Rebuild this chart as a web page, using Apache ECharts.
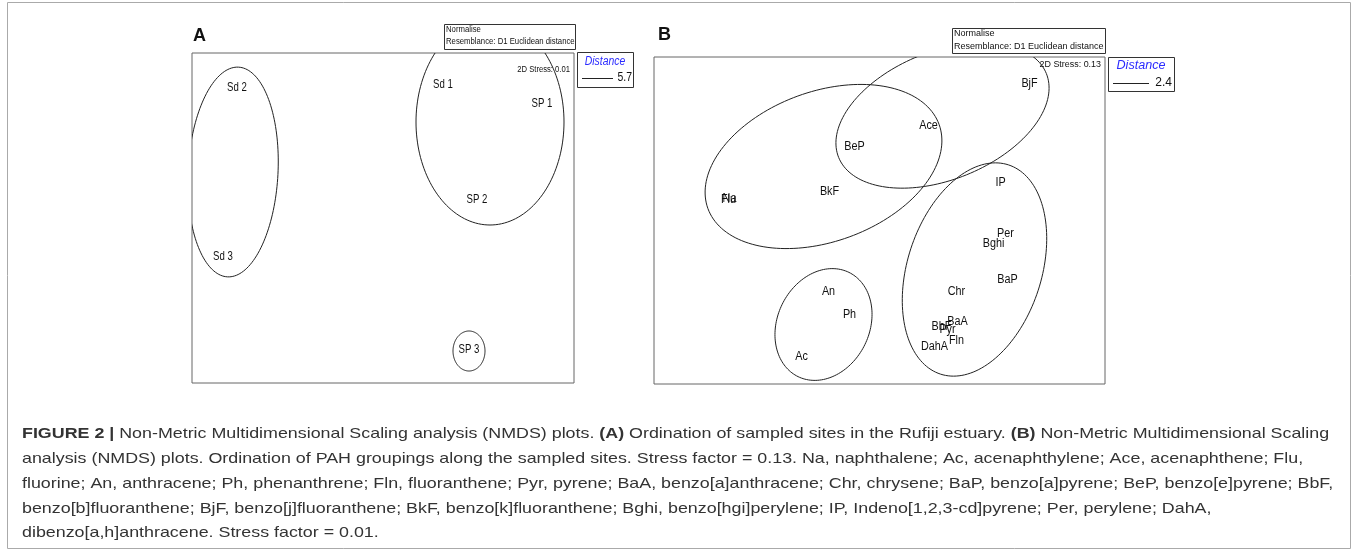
<!DOCTYPE html>
<html>
<head>
<meta charset="utf-8">
<title>NMDS plots</title>
<script src="https://cdn.jsdelivr.net/npm/echarts@6.0.0/dist/echarts.min.js"></script>
<style>
	html, body { margin: 0; padding: 0; background: #fff; }
	#main { width: 1358px; height: 552px; }
</style>
</head>
<body>
<div id="main"></div>
<script>
// panel A - sampled sites (NMDS coordinates)
var siteNames = ['Sd 1', 'Sd 2', 'Sd 3', 'SP 1', 'SP 2', 'SP 3'];
var siteX = [0.60, -1.46, -1.60, 1.59, 0.94, 0.86];
var siteY = [1.33, 1.30, -0.39, 1.14, 0.18, -1.32];
// groups of panel A: [cx, cy, semi axis a, semi axis b, angle deg]
var siteGroups = [
	[-1.50, 0.46, 1.05, 0.45, 87],
	[1.07, 0.96, 1.03, 0.74, 90],
	[0.86, -1.33, 0.20, 0.16, 90]
];

// panel B - PAH compounds
var pahNames = ['Flu', 'Na', 'BkF', 'BeP', 'Ace', 'BjF', 'IP', 'Per', 'Bghi', 'BaP', 'Chr',
	'BaA', 'BbF', 'Pyr', 'Fln', 'DahA', 'An', 'Ph', 'Ac'];
var pahX = [-1.51, -1.50, -0.50, -0.25, 0.49, 1.50, 1.21, 1.26, 1.14, 1.28, 0.77,
	0.78, 0.62, 0.68, 0.77, 0.55, -0.51, -0.30, -0.78];
var pahY = [0.21, 0.22, 0.29, 0.74, 0.95, 1.37, 0.38, -0.13, -0.23, -0.59, -0.71,
	-1.01, -1.06, -1.09, -1.20, -1.26, -0.71, -0.94, -1.36];
var pahGroups = [
	[-0.56, 0.54, 1.23, 0.75, 20],
	[0.63, 1.05, 1.12, 0.64, 22],
	[-0.56, -1.04, 0.58, 0.46, 64],
	[0.95, -0.49, 1.10, 0.67, 72]
];

var stressA = '2D Stress: 0.01';
var stressB = '2D Stress: 0.13';
var distA = '5.7';
var distB = '2.4';

var captionLines = [
	'{b|FIGURE 2 |} Non-Metric Multidimensional Scaling analysis (NMDS) plots. {b|(A)} Ordination of sampled sites in the Rufiji estuary. {b|(B)} Non-Metric Multidimensional Scaling',
	'analysis (NMDS) plots. Ordination of PAH groupings along the sampled sites. Stress factor = 0.13. Na, naphthalene; Ac, acenaphthylene; Ace, acenaphthene; Flu,',
	'fluorine; An, anthracene; Ph, phenanthrene; Fln, fluoranthene; Pyr, pyrene; BaA, benzo[a]anthracene; Chr, chrysene; BaP, benzo[a]pyrene; BeP, benzo[e]pyrene; BbF,',
	'benzo[b]fluoranthene; BjF, benzo[j]fluoranthene; BkF, benzo[k]fluoranthene; Bghi, benzo[hgi]perylene; IP, Indeno[1,2,3-cd]pyrene; Per, perylene; DahA,',
	'dibenzo[a,h]anthracene. Stress factor = 0.01.'
];

var SANS = '"Liberation Sans", Arial, Helvetica, sans-serif';

function points(xs, ys) {
	var out = [];
	for (var i = 0; i < xs.length; i++) {
		out.push([xs[i], ys[i]]);
	}
	return out;
}

// labels only, PRIMER style (no symbols), a bit condensed
function labelSeries(names, xs, ys, idx, size, sx) {
	return {
		type: 'custom',
		xAxisIndex: idx,
		yAxisIndex: idx,
		silent: true,
		z: 5,
		data: points(xs, ys),
		renderItem: function (params, api) {
			var p = api.coord([api.value(0), api.value(1)]);
			return {
				type: 'text',
				x: p[0], y: p[1],
				scaleX: sx,
				style: {
					x: 0, y: 0,
					text: names[params.dataIndex],
					font: size + 'px ' + SANS,
					fill: '#111',
					textAlign: 'center',
					textVerticalAlign: 'middle'
				}
			};
		}
	};
}

// group ellipses, drawn through the axis scales
function ellipseSeries(list, idx) {
	return {
		type: 'custom',
		xAxisIndex: idx,
		yAxisIndex: idx,
		clip: true,
		silent: true,
		data: list,
		renderItem: function (params, api) {
			var cx = api.value(0), cy = api.value(1);
			var a = api.value(2), b = api.value(3);
			var ang = api.value(4) * Math.PI / 180;
			var pts = [];
			for (var i = 0; i < 160; i++) {
				var t = i / 160 * Math.PI * 2;
				var x = cx + a * Math.cos(t) * Math.cos(ang) - b * Math.sin(t) * Math.sin(ang);
				var y = cy + a * Math.cos(t) * Math.sin(ang) + b * Math.sin(t) * Math.cos(ang);
				pts.push(api.coord([x, y]));
			}
			return {
				type: 'polygon',
				shape: { points: pts },
				style: { fill: 'none', stroke: '#222', lineWidth: 1 }
			};
		}
	};
}

function hiddenAxis(idx, min, max) {
	return {
		type: 'value', gridIndex: idx, min: min, max: max,
		axisLine: { show: false }, axisTick: { show: false },
		axisLabel: { show: false }, splitLine: { show: false }
	};
}

// text placed with its own transform so it can be squeezed like the original
function txt(x, y, text, font, opts, sx) {
	var s = { x: 0, y: 0, text: text, font: font, fill: '#111', textAlign: 'left', textVerticalAlign: 'middle' };
	for (var k in opts) s[k] = opts[k];
	return { type: 'text', z: 100, x: x, y: y, scaleX: sx || 1, style: s };
}

function box(x, y, w, h, color) {
	return {
		type: 'rect', z: 90,
		shape: { x: x + 0.5, y: y + 0.5, width: w, height: h },
		style: { fill: '#fff', stroke: color || '#333', lineWidth: 1 }
	};
}

function hline(x1, x2, y) {
	return { type: 'line', z: 100, shape: { x1: x1, y1: y + 0.5, x2: x2, y2: y + 0.5 }, style: { stroke: '#222', lineWidth: 1 } };
}

var graphics = [
	// outer frame
	{ type: 'rect', z: 1, shape: { x: 7.5, y: 2.5, width: 1343, height: 546 }, style: { fill: 'none', stroke: '#aaa', lineWidth: 1 } },
	// panel letters
	txt(193, 36, 'A', 'bold 18px ' + SANS),
	txt(658, 35, 'B', 'bold 18px ' + SANS),
	// normalise boxes
	box(444, 24, 131, 25),
	txt(446, 30, 'Normalise', '9px ' + SANS, {}, 0.86),
	txt(446, 42, 'Resemblance: D1 Euclidean distance', '9px ' + SANS, {}, 0.86),
	box(952, 28, 153, 25),
	txt(954, 34, 'Normalise', '9px ' + SANS),
	txt(954, 47, 'Resemblance: D1 Euclidean distance', '9px ' + SANS),
	// stress
	txt(570, 70, stressA, '8.5px ' + SANS, { textAlign: 'right' }, 0.9),
	txt(1101, 65, stressB, '8.5px ' + SANS, { textAlign: 'right' }, 1.05),
	// distance keys
	box(577, 52, 56, 35),
	txt(605, 62, 'Distance', 'italic 12px ' + SANS, { fill: '#2b2bff', textAlign: 'center' }, 0.87),
	hline(582, 613, 78),
	txt(632, 78, distA, '12px ' + SANS, { textAlign: 'right' }, 0.87),
	box(1108, 57, 66, 34),
	txt(1141, 66, 'Distance', 'italic 12px ' + SANS, { fill: '#2b2bff', textAlign: 'center' }, 1.05),
	hline(1113, 1149, 83),
	txt(1172, 83, distB, '12px ' + SANS, { textAlign: 'right' })
];

// caption lines (the printed caption is wider than the plain font)
for (var i = 0; i < captionLines.length; i++) {
	graphics.push({
		type: 'text', z: 100,
		x: 22, y: 434 + i * 24.8,
		scaleX: 1.19,
		style: {
			x: 0, y: 0,
			text: captionLines[i],
			font: '15px ' + SANS,
			fill: '#333',
			textVerticalAlign: 'middle',
			rich: { b: { fontWeight: 'bold', fontSize: 15, fontFamily: SANS, fill: '#333' } }
		}
	});
}

var myChart = echarts.init(document.getElementById('main'));
var option = {
	animation: false,
	backgroundColor: '#fff',
	grid: [
		{ left: 192, top: 53, width: 382, height: 330, show: true, borderColor: '#666', borderWidth: 1 },
		{ left: 654, top: 57, width: 451, height: 327, show: true, borderColor: '#666', borderWidth: 1 }
	],
	xAxis: [hiddenAxis(0, -1.91, 1.91), hiddenAxis(1, -2.255, 2.255)],
	yAxis: [hiddenAxis(0, -1.65, 1.65), hiddenAxis(1, -1.635, 1.635)],
	series: [
		ellipseSeries(siteGroups, 0),
		labelSeries(siteNames, siteX, siteY, 0, 12.5, 0.77),
		ellipseSeries(pahGroups, 1),
		labelSeries(pahNames, pahX, pahY, 1, 12, 0.9)
	],
	graphic: graphics
};
myChart.setOption(option);
</script>
</body>
</html>
